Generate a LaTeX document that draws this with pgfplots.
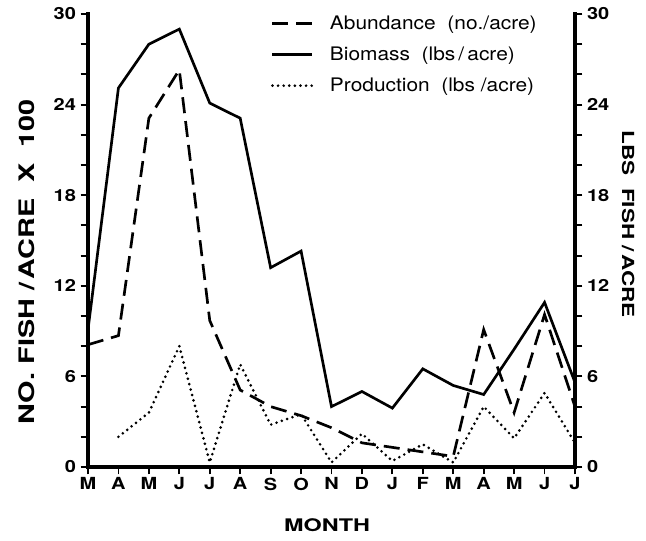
\documentclass[border=0pt]{standalone}
\usepackage{fontspec}
\setmainfont{TeX Gyre Heros}
\newfontfamily\tickfont[FakeStretch=1.2]{TeX Gyre Heros}
\newfontfamily\labfont[FakeStretch=1.35]{TeX Gyre Heros}
\newfontfamily\legfont[FakeStretch=1.12]{TeX Gyre Heros}
\usepackage{pgfplots}
\pgfplotsset{compat=1.18}

\pgfplotstableread{
x abund biomass
0 8.1 9.1
1 8.7 25.1
2 23.1 28.0
3 26.3 29.0
4 9.7 24.1
5 5.1 23.1
6 4.0 13.2
7 3.4 14.3
8 2.6 4.0
9 1.6 5.0
10 1.3 3.9
11 1.0 6.5
12 0.7 5.4
13 9.1 4.8
14 3.6 7.8
15 10.1 10.9
16 4.0 5.6
}\fishdata

\pgfplotstableread{
x prod
1 2.0
2 3.6
3 8.0
4 0.3
5 6.8
6 2.8
7 3.5
8 0.3
9 2.2
10 0.4
11 1.5
12 0.3
13 4.0
14 1.9
15 4.9
16 1.6
}\proddata

\begin{document}
\begin{tikzpicture}
\pgfplotsset{
  common/.style={
    scale only axis, width=365.25pt, height=339.75pt,
    xmin=0, xmax=16, ymin=0, ymax=30,
    tick align=outside,
    major tick length=5.5pt, minor tick length=5.5pt,
    every tick/.style={black, line width=1.4pt},
    axis line style={-, line width=3.4pt, line cap=rect},
    /pgf/number format/assume math mode=true,
    ticklabel style={font=\tickfont\bfseries\fontsize{12.5}{14}\selectfont},
    ytick={0,6,...,30}, minor ytick={2,4,8,10,14,16,20,22,26,28},
    clip=false,
  },
}
\begin{axis}[common,
  axis x line*=bottom, axis y line*=left,
  xtick={0,...,16},
  xticklabels={M,A,M,J,J,A,S,O,N,D,J,F,M,A,M,J,J},
  xticklabel style={yshift=1pt},
  ylabel={NO.\ FISH\ /\,ACRE\ \ X\ \ 100},
  ylabel style={font=\labfont\bfseries\fontsize{16}{18}\selectfont, at={(axis description cs:-0.125,0.453)}, anchor=center},
  xlabel={MONTH},
  xlabel style={font=\labfont\bfseries\fontsize{13}{15}\selectfont, at={(axis description cs:0.491,-0.128)}, anchor=center},
  legend style={draw=none, fill=none, at={(axis description cs:0.367,1.008)}, anchor=north west,
    font=\legfont\fontsize{14}{16}\selectfont, row sep=7.5pt},
  legend cell align=left,
  legend image code/.code={\draw[#1] (0pt,0pt) -- (30pt,0pt); \path (40pt,0pt);},
]
\addplot[black, line width=2pt, dash pattern=on 12pt off 6pt] table[x=x, y=abund] {\fishdata};
\addlegendentry{Abundance\ \ (no./acre)}
\addplot[black, line width=2pt] table[x=x, y=biomass] {\fishdata};
\addlegendentry{Biomass\ \ (lbs\,/\,acre)}
\addplot[black, line width=2.2pt, line cap=round, dash pattern=on 0pt off 4.2pt] table[x=x, y=prod] {\proddata};
\addlegendentry{Production\ \ (lbs\ /acre)}
\end{axis}
\begin{axis}[common,
  axis y line*=right, axis x line=none,
  ylabel={LBS\ \ FISH\ /\,ACRE},
  ylabel style={font=\labfont\bfseries\fontsize{12.5}{15}\selectfont, at={(axis description cs:1.109,0.536)}, anchor=center, rotate=180},
]
\end{axis}
\pgfresetboundingbox
\path[use as bounding box] (-66pt,-54.75pt) rectangle (418.5pt,350.25pt);
\end{tikzpicture}
\end{document}
